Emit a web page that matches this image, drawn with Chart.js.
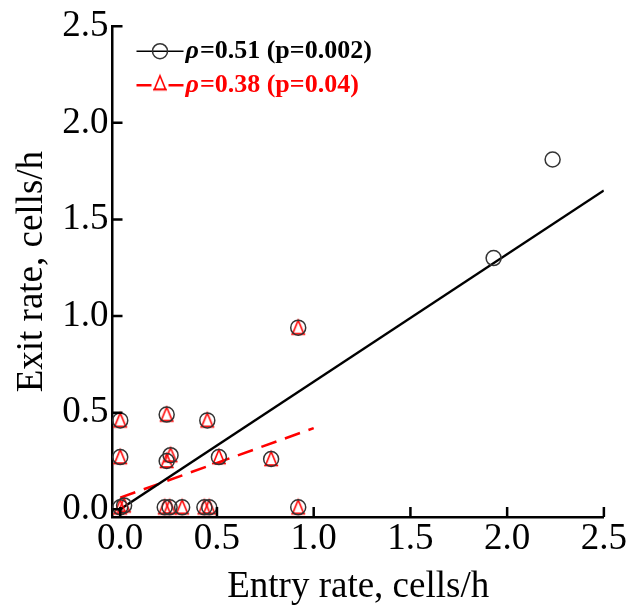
<!DOCTYPE html>
<html>
<head>
<meta charset="utf-8">
<script src="https://cdn.jsdelivr.net/npm/chart.js@4.4.1/dist/chart.umd.min.js"></script>
<style>
	html, body { margin: 0; padding: 0; background: #fff; }
</style>
</head>
<body>
<canvas id="scatter-chart" width="627" height="609"></canvas>
<script>
// all cells (black circles)
const entryRates = [ 0, 0.02, 0, 0, 0.24, 0.45, 0.24, 0.26, 0.51, 0.78, 0.23, 0.255, 0.32, 0.435, 0.46, 0.92, 0.92, 1.93, 2.235 ];
const exitRates = [ 0.01, 0.02, 0.27, 0.46, 0.49, 0.46, 0.25, 0.28, 0.27, 0.26, 0.01, 0.01, 0.01, 0.01, 0.01, 0.01, 0.94, 1.3, 1.81 ];
// subset (red triangles)
const entryRatesRed = [ 0, 0.02, 0, 0, 0.24, 0.45, 0.24, 0.26, 0.51, 0.78, 0.23, 0.255, 0.32, 0.435, 0.46, 0.92, 0.92 ];
const exitRatesRed = [ 0.01, 0.02, 0.27, 0.46, 0.49, 0.46, 0.25, 0.28, 0.27, 0.26, 0.01, 0.01, 0.01, 0.01, 0.01, 0.01, 0.94 ];
// regression lines
const fitX = [ 0, 2.5 ];
const fitY = [ 0, 1.65 ];
const fitXRed = [ 0, 1.0 ];
const fitYRed = [ 0.06, 0.42 ];
// axes
const tickValues = [ 0, 0.5, 1.0, 1.5, 2.0, 2.5 ];
const legendLabels = [ '=0.51 (p=0.002)', '=0.38 (p=0.04)' ];

const SERIF = '"Liberation Serif", "Times New Roman", serif';
const RED = '#ff0000';

function toPoints( xs, ys ) {
	return xs.map( ( x, i ) => ( { x, y: ys[ i ] } ) );
}

function triangleMarker() {
	const c = document.createElement( 'canvas' );
	c.width = 20;
	c.height = 20;
	const g = c.getContext( '2d' );
	g.strokeStyle = RED;
	g.lineWidth = 1.6;
	g.beginPath();
	g.moveTo( 10, 2.5 );
	g.lineTo( 4.5, 16 );
	g.lineTo( 15.5, 16 );
	g.closePath();
	g.stroke();
	g.beginPath();
	g.moveTo( 3, 16.5 );
	g.lineTo( 17, 16.5 );
	g.stroke();
	return c;
}
const triangle = triangleMarker();

// tick marks pointing into the plot
const inwardTicks = {
	id: 'inwardTicks',
	afterDraw( chart ) {
		const { ctx, chartArea, scales } = chart;
		ctx.save();
		ctx.strokeStyle = '#000';
		ctx.lineWidth = 2.5;
		ctx.beginPath();
		scales.x.ticks.forEach( ( t ) => {
			const px = scales.x.getPixelForValue( t.value );
			ctx.moveTo( px, chartArea.bottom );
			ctx.lineTo( px, chartArea.bottom - 10 );
		} );
		scales.y.ticks.forEach( ( t ) => {
			const py = scales.y.getPixelForValue( t.value );
			ctx.moveTo( chartArea.left, py );
			ctx.lineTo( chartArea.left + 10, py );
		} );
		ctx.stroke();
		ctx.restore();
	},
};

// legend with line + marker samples
const sampleLegend = {
	id: 'sampleLegend',
	afterDraw( chart ) {
		const { ctx, chartArea } = chart;
		const x0 = chartArea.left + 24;
		const rows = [ chartArea.top + 25, chartArea.top + 59 ];
		ctx.save();
		ctx.textBaseline = 'middle';

		ctx.strokeStyle = '#000';
		ctx.lineWidth = 1.5;
		ctx.beginPath();
		ctx.moveTo( x0, rows[ 0 ] );
		ctx.lineTo( x0 + 47, rows[ 0 ] );
		ctx.stroke();
		ctx.strokeStyle = '#333';
		ctx.beginPath();
		ctx.arc( x0 + 23.5, rows[ 0 ], 7.5, 0, Math.PI * 2 );
		ctx.stroke();

		ctx.strokeStyle = RED;
		ctx.lineWidth = 2.5;
		ctx.beginPath();
		ctx.moveTo( x0, rows[ 1 ] );
		ctx.lineTo( x0 + 15, rows[ 1 ] );
		ctx.moveTo( x0 + 32, rows[ 1 ] );
		ctx.lineTo( x0 + 47, rows[ 1 ] );
		ctx.stroke();
		ctx.drawImage( triangle, x0 + 13.5, rows[ 1 ] - 12 );

		[ '#000', RED ].forEach( ( color, i ) => {
			ctx.fillStyle = color;
			ctx.font = 'italic bold 26px ' + SERIF;
			ctx.fillText( 'ρ', x0 + 49, rows[ i ] );
			const w = ctx.measureText( 'ρ' ).width;
			ctx.font = 'bold 26px ' + SERIF;
			ctx.fillText( legendLabels[ i ], x0 + 49 + w + 1, rows[ i ] );
		} );
		ctx.restore();
	},
};

function axisOptions( title, isX ) {
	return {
		type: 'linear',
		min: -0.04,
		max: 2.5,
		grid: { display: false, drawTicks: false },
		border: { display: true, color: '#000', width: 2.5 },
		afterBuildTicks: ( scale ) => {
			scale.ticks = tickValues.map( ( v ) => ( { value: v } ) );
		},
		ticks: {
			font: { family: SERIF, size: 37 },
			color: '#000',
			padding: isX ? 0 : 4,
			maxRotation: 0,
			autoSkip: false,
			callback: ( v ) => Number( v ).toFixed( 1 ),
		},
		title: {
			display: true,
			text: title,
			color: '#000',
			font: { family: SERIF, size: 37 },
			padding: isX ? { top: 0, bottom: 0 } : { top: 10, bottom: 0 },
		},
		afterFit: ( scale ) => {
			if ( isX ) {
				scale.height = 92;
			} else {
				scale.width = 112.5;
			}
		},
	};
}

const scatterConfig = {
	type: 'scatter',
	data: {
		datasets: [
			{
				label: 'all',
				data: toPoints( entryRates, exitRates ),
				pointStyle: 'circle',
				pointRadius: 7.5,
				pointHoverRadius: 7.5,
				borderColor: '#333',
				borderWidth: 1.5,
				backgroundColor: 'rgba(0,0,0,0)',
				clip: false,
			},
			{
				label: 'subset',
				data: toPoints( entryRatesRed, exitRatesRed ),
				pointStyle: triangle,
				pointRadius: 10,
				clip: false,
			},
			{
				label: 'fit all',
				data: toPoints( fitX, fitY ),
				showLine: true,
				pointRadius: 0,
				borderColor: '#000',
				borderWidth: 2.5,
			},
			{
				label: 'fit subset',
				data: toPoints( fitXRed, fitYRed ),
				showLine: true,
				pointRadius: 0,
				borderColor: RED,
				borderWidth: 2.5,
				borderDash: [ 16, 9 ],
			},
		],
	},
	options: {
		responsive: false,
		animation: false,
		devicePixelRatio: 1,
		layout: { padding: { top: 25, right: 20, left: 0, bottom: 0 } },
		plugins: {
			legend: { display: false },
			tooltip: { enabled: false },
		},
		scales: {
			x: axisOptions( 'Entry rate, cells/h', true ),
			y: axisOptions( 'Exit rate, cells/h', false ),
		},
	},
	plugins: [ inwardTicks, sampleLegend ],
};

new Chart( document.getElementById( 'scatter-chart' ), scatterConfig );
</script>
</body>
</html>
